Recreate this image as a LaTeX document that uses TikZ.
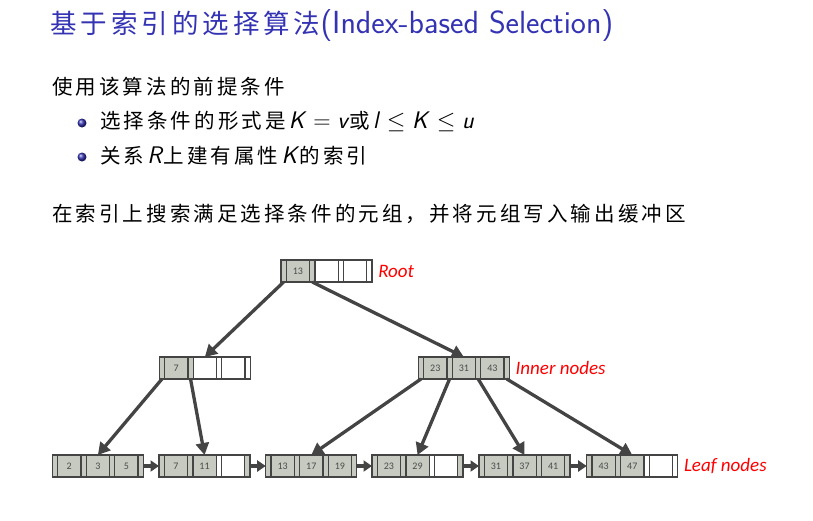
\RequirePackage{fix-cm}
\documentclass[tikz,border=0pt]{standalone}
\usepackage{fontspec}
\newfontfamily\cjk[LetterSpace=15]{Noto Sans CJK SC}
\newfontfamily\keyfont{Carlito}
\usetikzlibrary{arrows.meta,positioning,shapes.geometric}
\definecolor{ttlblue}{RGB}{51,51,179}
\definecolor{cellgray}{RGB}{198,202,192}
\definecolor{lineGray}{RGB}{68,68,68}
\definecolor{keyGray}{RGB}{75,75,75}
\newcommand{\sfit}[1]{\textsf{\textit{#1}}}
\newcommand{\zh}[1]{{\cjk\fontsize{20.5}{24}\selectfont #1}}

\tikzset{
  cell/.style={draw=lineGray,line width=1.3pt,minimum height=22pt,inner sep=0pt,outer sep=0pt,anchor=west,font=\keyfont\fontsize{10}{11}\selectfont,text=keyGray},
  pg/.style={cell,minimum width=5.3pt,fill=cellgray},
  pw/.style={cell,minimum width=5.3pt,fill=white},
  kg/.style={cell,minimum width=23.3pt,fill=cellgray},
  kw/.style={cell,minimum width=23.3pt,fill=white},
  treearrow/.style={draw=lineGray,line width=3.3pt,-{Triangle[length=12pt,width=13pt]}},
  leafarrow/.style={draw=lineGray,line width=3.6pt,-{Triangle[length=8.5pt,width=11pt]}},
  lbl/.style={text=red,font=\keyfont\itshape\fontsize{19}{22}\selectfont,inner sep=0pt},
  bullet/.style={circle,inner sep=0pt,minimum size=9pt,shade,ball color=ttlblue},
  txt/.style={anchor=west,inner sep=0pt,font=\fontsize{24}{27}\selectfont}
}
% one B+-tree node: name, west point, cells
\newcommand{\bnode}[3]{%
  \coordinate (#1-0) at #2;
  \foreach \s/\t [count=\i, remember=\i as \j (initially 0)] in {#3}
    \node[\s] (#1-\i) at (#1-\j.east) {\t};
}

\begin{document}
\begin{tikzpicture}[x=1pt,y=-1pt]
  \useasboundingbox (0,0) rectangle (813,520);

  % slide text
  \node[anchor=west,inner sep=0pt,text=ttlblue] (title) at (50,26)
    {{\cjk\fontsize{26.5}{30}\selectfont 基于索引的选择算法}{\sffamily\fontsize{32}{36}\selectfont(Index-based Selection)}};
  \node[txt] (pre) at (52,87) {\zh{使用该算法的前提条件}};
  \node[bullet] (b1) at (82,123) {};
  \node[txt] (c1) at (100,121)
    {\zh{选择条件的形式是}\sfit{K}${}={}$\sfit{v}\zh{或}\sfit{l}${}\leq{}$\sfit{K}${}\leq{}$\sfit{u}};
  \node[bullet] (b2) at (82,157) {};
  \node[txt] (c2) at (100,156)
    {\zh{关系}\sfit{R}\zh{上建有属性}\sfit{K}\zh{的索引}};
  \node[txt] (srch) at (52,214) {\zh{在索引上搜索满足选择条件的元组，并将元组写入输出缓冲区}};

  % B+ tree
  \bnode{root}{(281,271)}{pg/,kg/13,pg/,kw/,pw/,kw/,pw/}
  \bnode{inL}{(159.3,368)}{pg/,kg/7,pg/,kw/,pw/,kw/,pw/}
  \bnode{inR}{(418.3,368)}{pg/,kg/23,pg/,kg/31,pg/,kg/43,pg/}
  \bnode{leaf1}{(52.3,466)}{pg/,kg/2,pg/,kg/3,pg/,kg/5,pg/}
  \bnode{leaf2}{(159,466)}{pg/,kg/7,pg/,kg/11,pw/,kw/,pg/}
  \bnode{leaf3}{(265.7,466)}{pg/,kg/13,pg/,kg/17,pg/,kg/19,pg/}
  \bnode{leaf4}{(372,466)}{pg/,kg/23,pg/,kg/29,pw/,kw/,pg/}
  \bnode{leaf5}{(479,466)}{pg/,kg/31,pg/,kg/37,pg/,kg/41,pg/}
  \bnode{leaf6}{(586.7,466)}{pg/,kg/43,pg/,kg/47,pw/,kw/,pw/}

  \node[lbl,right=6pt of root-7] (lroot) {Root};
  \node[lbl,right=6pt of inR-7] (linner) {Inner nodes};
  \node[lbl,right=6pt of leaf6-7] (lleaf) {Leaf nodes};

  \draw[treearrow] (root-1.south) -- (inL-4.north);
  \draw[treearrow] (root-3.south) -- (inR-4.north);
  \draw[treearrow] (inL-1.south) -- (leaf1-4.north);
  \draw[treearrow] (inL-3.south) -- (leaf2-4.north);
  \draw[treearrow] (inR-1.south) -- (leaf3-4.north);
  \draw[treearrow] (inR-3.south) -- (leaf4-4.north);
  \draw[treearrow] (inR-5.south) -- (leaf5-4.north);
  \draw[treearrow] (inR-7.south) -- (leaf6-4.north);

  \foreach \a/\b in {1/2,2/3,3/4,4/5,5/6}
    \draw[leafarrow] (leaf\a-7) -- (leaf\b-1);
\end{tikzpicture}
\end{document}
